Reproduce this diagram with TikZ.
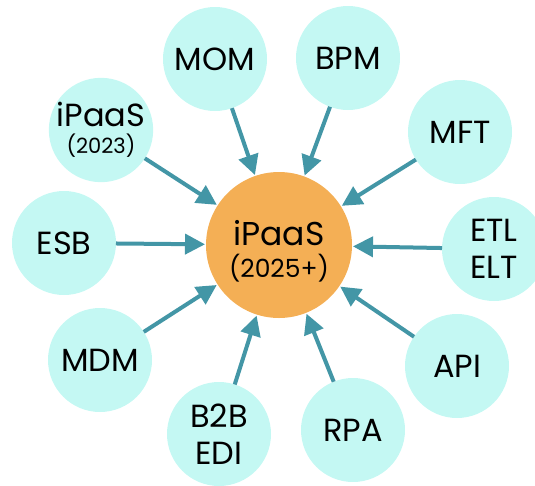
\documentclass[tikz,border=0pt]{standalone}
\usepackage{fontspec}
\setmainfont{Poppins}
\usetikzlibrary{arrows.meta}
\definecolor{hubfill}{HTML}{F4AF55}
\definecolor{leaffill}{HTML}{C4F8F3}
\definecolor{linkcol}{HTML}{4396A6}
\tikzset{
  hub/.style={circle, fill=hubfill, minimum size=146pt, inner sep=0pt, outer sep=0pt},
  hubtext/.style={inner sep=0pt, align=center, font=\fontsize{33}{32}\selectfont},
  leaf/.style={circle, fill=leaffill, minimum size=104pt, inner sep=0pt, outer sep=0pt, align=center, font=\fontsize{32}{37}\selectfont},
  feed/.style={draw=linkcol, line width=4pt, -{Triangle[length=20pt,width=20pt]}, shorten >=1pt}
}
\begin{document}
\begin{tikzpicture}[x=1pt,y=-1pt]
\useasboundingbox (0,0) rectangle (535,485);
\node[hub] (core) at (279,245) {};
\node[hubtext] (coretext) at ([yshift=-6pt]core.center)
  {iPaaS\\\fontsize{25}{32}\selectfont (2025+)};
\node[leaf] (mom) at (215,59) {MOM};
\node[leaf] (bpm) at (348,58) {BPM};
\node[leaf] (mft) at (460,132) {MFT};
\node[leaf] (etl) at (494,249) {ETL\\ELT};
\node[leaf] (api) at (457,366) {API};
\node[leaf] (rpa) at (353,430) {RPA};
\node[leaf] (b2b) at (219,434) {B2B\\EDI};
\node[leaf] (mdm) at (100,360) {MDM};
\node[leaf] (esb) at (64,243) {ESB};
\node[leaf, font=\fontsize{32}{27}\selectfont] (old) at (101,130) {iPaaS\\\fontsize{21}{27}\selectfont (2023)};
\foreach \n in {mom,bpm,mft,etl,api,rpa,b2b,mdm,esb,old}
  \draw[feed] (\n) -- (core);
\end{tikzpicture}
\end{document}
